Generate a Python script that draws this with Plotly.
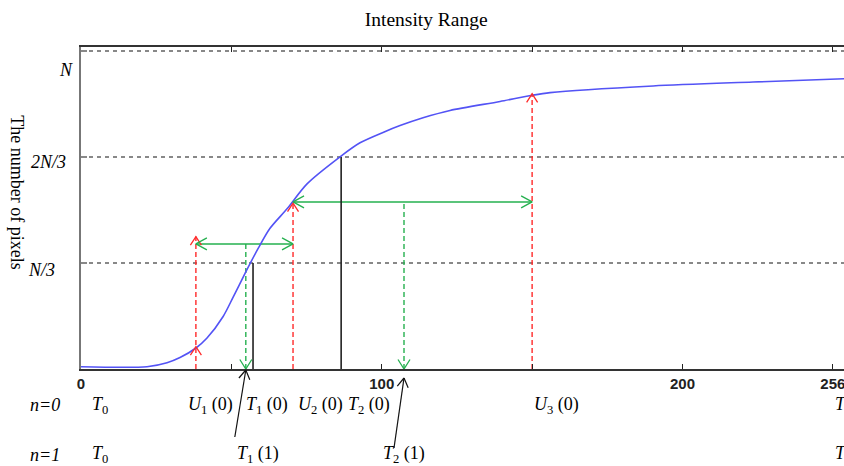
import math
import plotly.graph_objects as go

# ---------------- data ----------------
curve_x = [0, 21.95, 28.6, 32.92, 38.24, 41.9, 47.26, 50.55, 54.54, 58.86, 62.85, 68.51, 75.16,
           86.13, 92.78, 100.43, 106.09, 113.73, 122.71, 139.34, 150.0, 155.97, 190.22, 223.47,
           253.7]
curve_y = [0.0217, 0.0217, 0.0594, 0.1085, 0.198, 0.292, 0.495, 0.675, 0.901, 1.134, 1.326,
           1.51, 1.745, 2.0, 2.132, 2.230, 2.294, 2.368, 2.437, 2.522, 2.580, 2.605, 2.668,
           2.705, 2.736]

u_vals = [38.2, 70.5, 150.0]          # U1(0), U2(0), U3(0)
u_tops = [1.248, 1.563, 2.594]
u1_curve_hit = 0.21
t0_vals = [57.2, 86.5]                # T1(0), T2(0)
t0_tops = [1.0, 2.0]
green_levels = [1.179, 1.575]
green_mids = [54.8, 107.4]            # T1(1), T2(1)

x_tickvals = [0, 50, 100, 150, 200, 250]
x_ticktext = ["0", "", "100", "", "200", "256"]
y_tickvals = [1, 2, 3]
y_ticktext = ["<i>N/3</i>", "<i>2N/3</i>", "<i>N</i>"]

row0_labels = ["<i>T</i><sub>0</sub>", "<i>U</i><sub>1</sub> (0)", "<i>T</i><sub>1</sub> (0)",
               "<i>U</i><sub>2</sub> (0)", "<i>T</i><sub>2</sub> (0)", "<i>U</i><sub>3</sub> (0)",
               "<i>T</i><sub>3</sub>"]
row0_x = [3.0, 42.9, 61.7, 79.5, 95.8, 158.0, 250.1]
row0_anchor = ["left", "center", "center", "center", "center", "center", "left"]
row1_labels = ["<i>T</i><sub>0</sub>", "<i>T</i><sub>1</sub> (1)", "<i>T</i><sub>2</sub> (1)",
               "<i>T</i><sub>3</sub>"]
row1_x = [3.0, 58.7, 107.3, 250.1]
row1_anchor = ["left", "center", "center", "left"]

# ---------------- layout constants ----------------
W, H = 844, 466
ML, MR, MT, MB = 81, 0, 47, 97
X_MAX, Y_MAX = 253.7, 3.035
PW, PH = W - ML - MR, H - MT - MB
KX = X_MAX / PW     # x data units per pixel
KY = Y_MAX / PH     # y data units per pixel
KP = 1.0 / PH       # paper units per pixel (vertical)

RED = "#ff2a2a"
GREEN = "#25b04f"
BLUE = "#5353f5"
SERIF = "Liberation Serif"


def chevron(xs, ys, x, y, direction, hw, ln):
    if direction == "up":
        pts = [(x - hw * KX, y - ln * KY), (x, y), (x + hw * KX, y - ln * KY)]
    elif direction == "down":
        pts = [(x - hw * KX, y + ln * KY), (x, y), (x + hw * KX, y + ln * KY)]
    elif direction == "left":
        pts = [(x + ln * KX, y + hw * KY), (x, y), (x + ln * KX, y - hw * KY)]
    else:
        pts = [(x - ln * KX, y + hw * KY), (x, y), (x - ln * KX, y - hw * KY)]
    for px, py in pts:
        xs.append(px)
        ys.append(py)
    xs.append(None)
    ys.append(None)


fig = go.Figure()

# red dashed verticals
for u, top in zip(u_vals, u_tops):
    fig.add_trace(go.Scatter(x=[u, u], y=[0, top], mode="lines",
                             line=dict(color=RED, width=1.4, dash="5px,3px"),
                             hoverinfo="skip"))
# green dashed verticals
for m, lvl in zip(green_mids, green_levels):
    fig.add_trace(go.Scatter(x=[m, m], y=[0, lvl], mode="lines",
                             line=dict(color=GREEN, width=1.4, dash="5px,3px"),
                             hoverinfo="skip"))
# green solid horizontal double arrows
for i, lvl in enumerate(green_levels):
    fig.add_trace(go.Scatter(x=[u_vals[i], u_vals[i + 1]], y=[lvl, lvl], mode="lines",
                             line=dict(color=GREEN, width=1.5), hoverinfo="skip"))
# black solid verticals
for t, top in zip(t0_vals, t0_tops):
    fig.add_trace(go.Scatter(x=[t, t], y=[0, top], mode="lines",
                             line=dict(color="#222222", width=1.6), hoverinfo="skip"))
# curve
fig.add_trace(go.Scatter(x=curve_x, y=curve_y, mode="lines",
                         line=dict(color=BLUE, width=1.6, shape="spline", smoothing=0.8),
                         hoverinfo="skip"))

# arrowheads (chevrons)
rx, ry = [], []
for u, top in zip(u_vals, u_tops):
    chevron(rx, ry, u, top, "up", 5.5, 8.5)
chevron(rx, ry, u_vals[0], u1_curve_hit, "up", 5.5, 8.5)
fig.add_trace(go.Scatter(x=rx, y=ry, mode="lines", line=dict(color=RED, width=1.3),
                         hoverinfo="skip"))
gx, gy = [], []
for m in green_mids:
    chevron(gx, gy, m, 0, "down", 6, 9.5)
for i, lvl in enumerate(green_levels):
    chevron(gx, gy, u_vals[i], lvl, "left", 6, 11)
    chevron(gx, gy, u_vals[i + 1], lvl, "right", 6, 11)
fig.add_trace(go.Scatter(x=gx, y=gy, mode="lines", line=dict(color=GREEN, width=1.3),
                         hoverinfo="skip"))

# black pointer arrows from the n=1 labels (tip below the axis, paper y; tail offset in px)
shapes = []
for m, tip_px, (dx, dy) in zip(green_mids, [1, 9], [(-11, 67), (-10, 70)]):
    tip_y = -tip_px * KP
    tail_x, tail_y = m + dx * KX, tip_y - dy * KP
    shapes.append(dict(type="line", xref="x", yref="paper", x0=tail_x, y0=tail_y,
                       x1=m, y1=tip_y, line=dict(color="#111111", width=1.2)))
    L = math.hypot(dx, dy)
    ux, uy = dx / L, dy / L           # unit vector tip -> tail (pixels, y down)
    hw, ln = 5.5, 9.0
    for s in (1, -1):
        bx = ln * ux + s * hw * (-uy)
        by = ln * uy + s * hw * ux
        shapes.append(dict(type="line", xref="x", yref="paper", x0=m, y0=tip_y,
                           x1=m + bx * KX, y1=tip_y - by * KP,
                           line=dict(color="#111111", width=1.2)))

ann = []
lab_font = dict(family=SERIF, size=18, color="black")
for txt, x, a in zip(row0_labels, row0_x, row0_anchor):
    ann.append(dict(x=x, y=-0.112, xref="x", yref="paper", text=txt, showarrow=False,
                    xanchor=a, yanchor="middle", font=lab_font))
for txt, x, a in zip(row1_labels, row1_x, row1_anchor):
    ann.append(dict(x=x, y=-0.267, xref="x", yref="paper", text=txt, showarrow=False,
                    xanchor=a, yanchor="middle", font=lab_font))
ann.append(dict(x=-0.047, y=-0.112, xref="paper", yref="paper", text="<i>n=0</i>",
                showarrow=False, xanchor="center", yanchor="middle", font=lab_font))
ann.append(dict(x=-0.047, y=-0.267, xref="paper", yref="paper", text="<i>n=1</i>",
                showarrow=False, xanchor="center", yanchor="middle", font=lab_font))

# y tick labels (offset as in the reference)
for txt, px, y in zip(y_ticktext, [-0.0518, -0.0432, -0.0197], [0.934, 1.953, 2.82]):
    ann.append(dict(x=px, y=y, xref="paper", yref="y", text=txt, showarrow=False,
                    xanchor="center", yanchor="middle", font=lab_font))

# y axis title (reads top to bottom)
ann.append(dict(x=-0.0839, y=0.549, xref="paper", yref="paper", text="The number of pixels",
                showarrow=False, textangle=90, xanchor="center", yanchor="middle",
                font=dict(family=SERIF, size=18, color="black")))

fig.update_layout(
    template="none",
    width=W, height=H,
    margin=dict(l=ML, r=MR, t=MT, b=MB),
    paper_bgcolor="white", plot_bgcolor="white",
    showlegend=False,
    title=dict(text="Intensity Range", x=0.505, y=0.959, xanchor="center", yanchor="middle",
               font=dict(family=SERIF, size=19.5, color="black")),
    annotations=ann,
    shapes=shapes,
)
fig.update_xaxes(range=[0, X_MAX], tickmode="array", tickvals=x_tickvals, ticktext=x_ticktext,
                 ticks="inside", ticklen=5, tickwidth=1.3, tickcolor="#222222",
                 showline=True, linecolor="#333333", linewidth=2, mirror="ticks",
                 showgrid=False, zeroline=False, automargin=False,
                 ticklabeloverflow="allow",
                 tickfont=dict(family="Liberation Sans", size=15, color="#222222", weight="bold"))
fig.update_yaxes(range=[0, Y_MAX], tickmode="array", tickvals=y_tickvals, showticklabels=False,
                 ticks="inside", ticklen=6, tickwidth=2, tickcolor="#888888",
                 showline=True, linecolor="#777777", linewidth=2,
                 showgrid=True, gridcolor="#888888", gridwidth=2, griddash="4px,4px",
                 zeroline=False, automargin=False)

fig.write_html("out.html")
